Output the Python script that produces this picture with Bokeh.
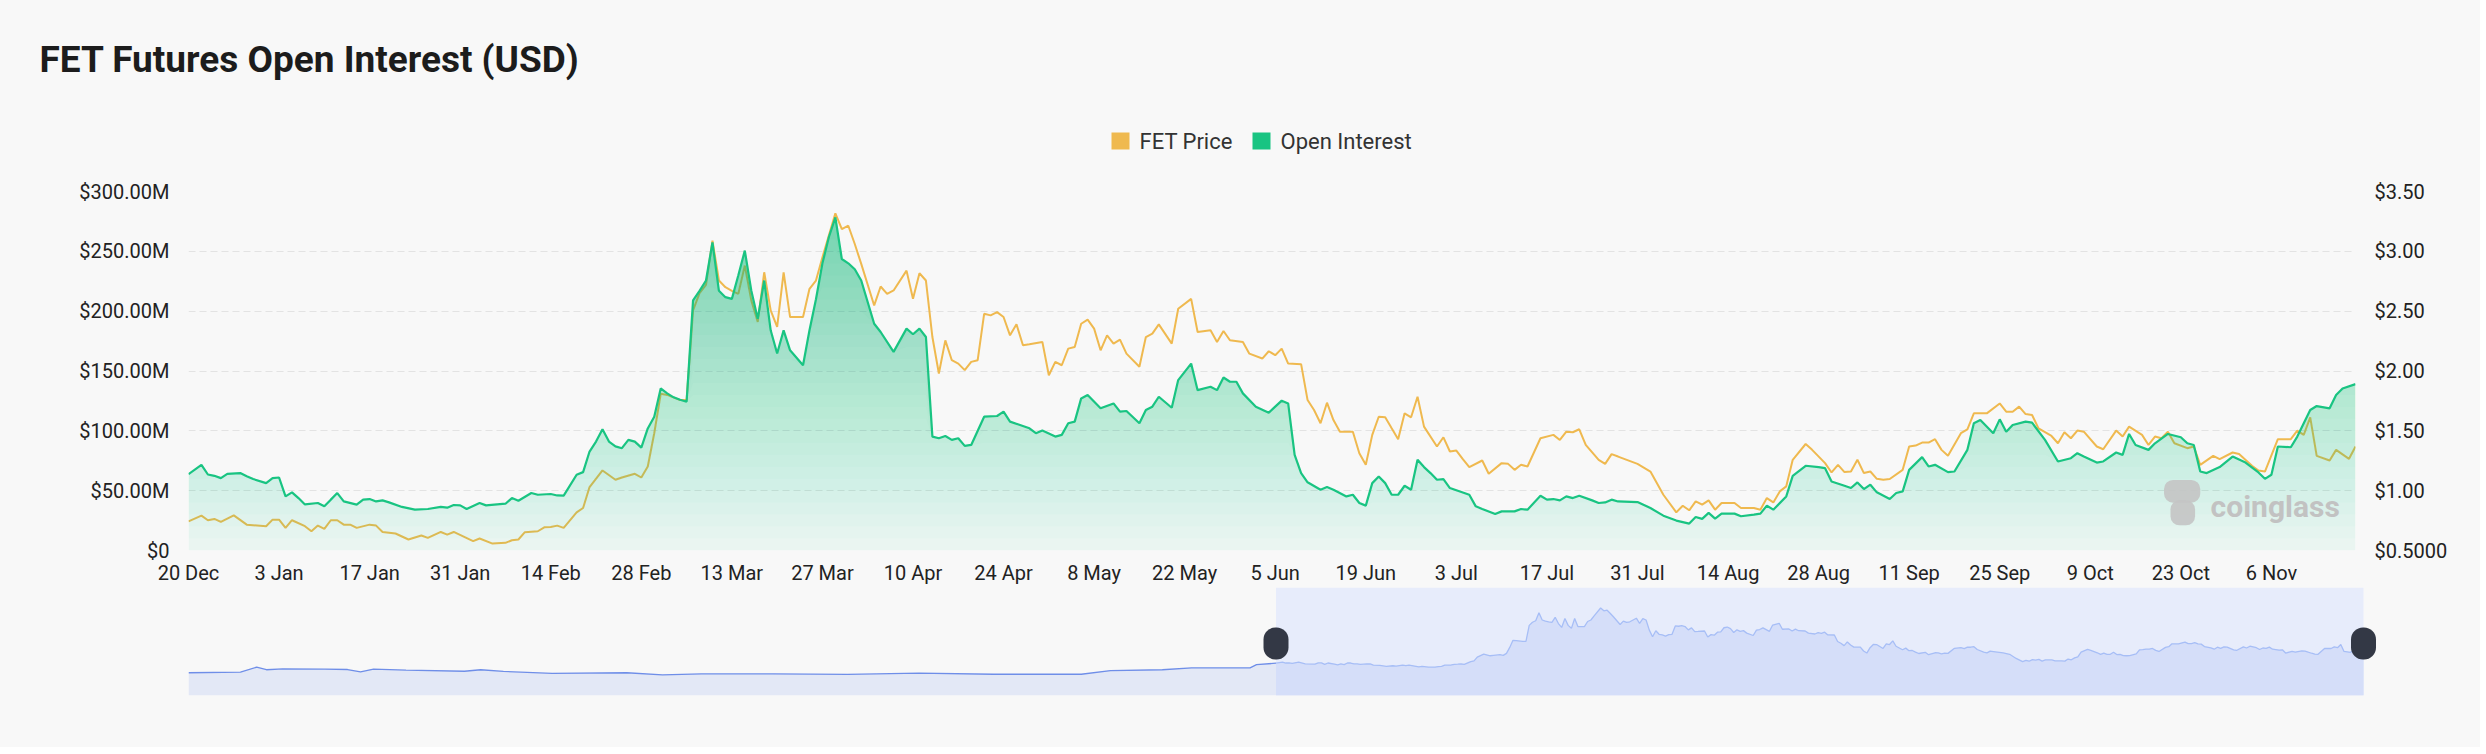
import numpy as np
from bokeh.plotting import figure
from bokeh.models import Range1d, LinearAxis, FixedTicker, Label, BoxAnnotation
from bokeh.layouts import column
from bokeh.embed import file_html
from bokeh.resources import INLINE
from bokeh.core.properties import value

# ---------------- data ----------------
title_text = "FET Futures Open Interest (USD)"
series_names = ["FET Price", "Open Interest"]
watermark_text = "coinglass"

# days counted from 20 Dec 2023
oi_day = [0, 2, 3, 4, 5, 6, 8, 9, 10, 12, 13, 14, 15, 16, 17, 18, 20, 21, 22, 23, 24, 26, 27, 28, 29, 30, 31, 33, 35, 37,
          39, 40, 41, 42, 43, 45, 46, 49, 50, 51, 53, 54, 56, 57, 58, 60, 61, 62, 63, 64, 65, 66, 67, 68, 69, 70, 71, 72,
          73, 74, 75, 76, 77, 78, 79, 80, 81, 82, 83, 84, 85, 86, 87, 88, 89, 90, 91, 92, 93, 95, 96, 97, 98, 99, 100,
          101, 102, 103, 104, 106, 107, 109, 111, 112, 113, 114, 115, 116, 117, 118, 119, 120, 121, 123, 125, 126, 127,
          130, 131, 132, 134, 135, 136, 137, 138, 139, 141, 143, 144, 145, 147, 148, 149, 150, 152, 153, 155, 156, 158,
          159, 160, 161, 162, 163, 165, 167, 168, 169, 170, 171, 172, 173, 175, 176, 177, 179, 180, 181, 182, 183, 184,
          185, 186, 187, 188, 189, 190, 191, 192, 193, 194, 195, 197, 198, 199, 200, 202, 203, 205, 206, 207, 209, 210,
          211, 212, 213, 214, 215, 217, 218, 219, 220, 221, 224, 226, 228, 230, 232, 233, 234, 235, 236, 237, 239, 240,
          242, 243, 244, 245, 247, 248, 250, 252, 253, 254, 256, 257, 258, 259, 260, 261, 263, 264, 265, 266, 268, 269,
          270, 272, 273, 275, 276, 277, 279, 280, 281, 282, 284, 285, 287, 289, 291, 292, 293, 295, 296, 298, 299, 300,
          301, 303, 304, 306, 308, 309, 310, 311, 312, 314, 316, 318, 320, 321, 322, 323, 325, 326, 328, 329, 331, 332,
          333, 335]
oi_musd = [63.8, 71.6, 63.5, 62.4, 60.5, 64.0, 64.7, 62.0, 59.7, 56.3, 60.5, 61.0, 45.2, 48.6, 43.8, 38.5, 39.7, 36.9,
           42.5, 48.0, 41.0, 38.3, 42.5, 43.0, 41.0, 41.9, 40.2, 36.4, 34.1, 34.7, 36.4, 35.8, 38.0, 37.7, 34.7, 39.7,
           37.7, 39.1, 43.8, 41.6, 48.0, 46.6, 47.2, 46.0, 45.8, 63.3, 65.5, 82.7, 91.0, 101.3, 91.0, 87.0, 85.5, 92.4,
           91.0, 86.0, 102.0, 111.8, 135.4, 131.3, 128.0, 126.0, 124.3, 209.0, 217.0, 225.6, 257.5, 217.0, 211.7, 210.3,
           230.0, 250.6, 217.3, 193.7, 225.6, 184.0, 164.6, 184.0, 167.3, 154.8, 184.0, 210.0, 240.0, 262.0, 278.3,
           243.6, 240.0, 235.0, 225.6, 189.5, 182.6, 166.0, 185.4, 180.7, 185.4, 178.4, 95.2, 93.8, 95.7, 92.4, 93.8,
           87.4, 88.2, 111.8, 112.4, 116.0, 107.7, 102.1, 98.0, 100.2, 95.2, 96.6, 106.3, 107.7, 127.1, 129.9, 118.8,
           122.9, 116.0, 116.6, 106.3, 117.4, 120.2, 128.5, 119.3, 142.4, 156.2, 134.0, 136.8, 134.0, 144.6, 141.0,
           141.0, 131.3, 120.2, 115.2, 120.2, 125.2, 122.9, 79.9, 64.7, 57.0, 50.8, 53.0, 50.8, 45.2, 46.6, 39.7, 37.5,
           56.3, 61.9, 56.3, 46.6, 46.6, 54.1, 50.8, 75.8, 69.7, 64.7, 59.1, 59.7, 52.2, 48.5, 46.6, 36.9, 34.7, 30.5,
           32.7, 32.7, 34.7, 34.1, 45.8, 42.5, 43.0, 41.9, 45.2, 43.8, 45.8, 41.9, 39.7, 40.2, 42.5, 41.0, 40.5, 35.5,
           29.1, 25.0, 22.5, 28.0, 26.4, 31.4, 26.6, 30.8, 30.8, 28.6, 30.0, 30.8, 37.5, 34.1, 45.2, 62.4, 70.8, 69.7,
           68.8, 57.7, 54.1, 52.2, 56.9, 51.3, 55.0, 48.6, 43.0, 48.0, 49.4, 67.4, 78.0, 70.2, 71.6, 65.5, 66.0, 84.1,
           106.3, 109.1, 98.0, 109.6, 99.3, 104.9, 107.7, 106.8, 92.4, 74.4, 77.1, 81.3, 78.5, 73.5, 74.4, 81.9, 79.9,
           97.4, 88.2, 84.1, 89.6, 97.4, 94.6, 89.6, 88.2, 66.0, 64.7, 69.7, 78.5, 73.5, 65.2, 59.9, 63.3, 86.9, 86.3,
           95.2, 117.4, 120.7, 118.8, 129.9, 135.4, 139.0]

price_day = [0, 2, 3, 4, 5, 7, 9, 12, 13, 14, 15, 16, 18, 19, 20, 21, 22, 23, 24, 25, 26, 28, 29, 30, 32, 34, 36, 37, 39,
             40, 41, 44, 45, 47, 49, 50, 51, 52, 54, 55, 56, 57, 58, 60, 61, 62, 64, 66, 67, 69, 70, 71, 72, 73, 74, 76,
             77, 78, 79, 80, 81, 82, 83, 84, 85, 86, 87, 88, 89, 90, 91, 92, 93, 95, 96, 97, 98, 100, 101, 102, 103, 104,
             106, 107, 108, 109, 111, 112, 113, 114, 115, 116, 117, 118, 119, 120, 121, 122, 123, 124, 125, 126, 127,
             128, 129, 130, 132, 133, 134, 135, 136, 137, 138, 139, 140, 141, 142, 143, 144, 145, 147, 148, 149, 150,
             152, 153, 155, 156, 158, 159, 160, 161, 163, 164, 166, 167, 168, 169, 170, 172, 173, 174, 175, 176, 177,
             178, 180, 181, 182, 183, 184, 185, 186, 187, 188, 189, 190, 191, 193, 194, 195, 196, 197, 198, 200, 201,
             203, 204, 205, 206, 207, 209, 211, 212, 213, 214, 215, 216, 218, 219, 220, 221, 224, 226, 228, 230, 231,
             232, 233, 234, 235, 236, 237, 239, 240, 242, 243, 244, 245, 246, 247, 248, 250, 251, 253, 254, 255, 256,
             257, 258, 259, 260, 261, 262, 263, 265, 266, 267, 268, 269, 270, 271, 272, 274, 275, 276, 278, 280, 281,
             282, 283, 284, 285, 286, 288, 289, 290, 291, 292, 293, 295, 296, 298, 299, 300, 302, 303, 304, 305, 306,
             307, 309, 310, 311, 313, 314, 316, 317, 319, 320, 321, 323, 325, 326, 327, 328, 329, 331, 332, 334, 335]
price_usd = [0.744, 0.791, 0.753, 0.764, 0.739, 0.794, 0.716, 0.703, 0.758, 0.758, 0.689, 0.753, 0.703, 0.661, 0.708,
             0.680, 0.753, 0.753, 0.716, 0.716, 0.689, 0.716, 0.708, 0.655, 0.642, 0.592, 0.625, 0.605, 0.655, 0.633,
             0.655, 0.578, 0.600, 0.558, 0.564, 0.586, 0.592, 0.653, 0.661, 0.694, 0.697, 0.708, 0.689, 0.819, 0.855,
             1.030, 1.169, 1.091, 1.110, 1.141, 1.110, 1.202, 1.480, 1.810, 1.800, 1.757, 1.757, 2.506, 2.650, 2.720,
             3.090, 2.756, 2.700, 2.670, 2.645, 2.881, 2.590, 2.410, 2.825, 2.506, 2.368, 2.825, 2.451, 2.451, 2.687,
             2.756, 2.950, 3.317, 3.186, 3.214, 3.061, 2.895, 2.548, 2.706, 2.645, 2.673, 2.839, 2.603, 2.817, 2.756,
             2.284, 1.979, 2.256, 2.090, 2.062, 2.007, 2.076, 2.090, 2.478, 2.465, 2.492, 2.451, 2.298, 2.390, 2.215,
             2.223, 2.243, 1.965, 2.076, 2.048, 2.187, 2.201, 2.395, 2.429, 2.354, 2.173, 2.298, 2.229, 2.262, 2.145,
             2.035, 2.284, 2.312, 2.390, 2.229, 2.520, 2.603, 2.326, 2.340, 2.243, 2.334, 2.257, 2.243, 2.145, 2.104,
             2.165, 2.132, 2.187, 2.062, 2.057, 1.757, 1.674, 1.563, 1.735, 1.590, 1.493, 1.493, 1.313, 1.216, 1.466,
             1.618, 1.613, 1.521, 1.430, 1.646, 1.613, 1.785, 1.535, 1.369, 1.446, 1.327, 1.335, 1.263, 1.196, 1.252,
             1.141, 1.230, 1.224, 1.174, 1.216, 1.202, 1.438, 1.466, 1.424, 1.493, 1.488, 1.513, 1.382, 1.258, 1.224,
             1.305, 1.285, 1.224, 1.160, 0.966, 0.819, 0.874, 0.836, 0.911, 0.883, 0.919, 0.841, 0.897, 0.897, 0.855,
             0.855, 0.841, 0.938, 0.902, 0.994, 1.036, 1.258, 1.390, 1.341, 1.230, 1.152, 1.216, 1.155, 1.160, 1.258,
             1.147, 1.160, 1.099, 1.091, 1.097, 1.174, 1.369, 1.377, 1.402, 1.402, 1.430, 1.341, 1.291, 1.480, 1.513,
             1.646, 1.646, 1.729, 1.660, 1.660, 1.702, 1.640, 1.632, 1.521, 1.457, 1.396, 1.488, 1.438, 1.502, 1.493,
             1.369, 1.346, 1.502, 1.452, 1.535, 1.466, 1.382, 1.452, 1.438, 1.493, 1.396, 1.355, 1.369, 1.216, 1.291,
             1.263, 1.319, 1.307, 1.208, 1.169, 1.160, 1.430, 1.430, 1.502, 1.466, 1.613, 1.291, 1.252, 1.341, 1.266,
             1.369]

# earlier price history shown only in the range navigator (days before 20 Dec 2023)
nav_day = [-335, -319, -314, -311, -306, -293, -286, -282, -278, -268, -250, -245, -238, -223, -200, -189, -177, -155,
           -132, -110, -87, -60, -51, -35, -26, -8, -6]
nav_price = [0.30, 0.33, 0.56, 0.44, 0.48, 0.47, 0.45, 0.34, 0.47, 0.42, 0.37, 0.44, 0.36, 0.27, 0.30, 0.20, 0.25, 0.25,
             0.22, 0.28, 0.23, 0.23, 0.40, 0.44, 0.53, 0.53, 0.68]

x_tick_day = [0, 14, 28, 42, 56, 70, 84, 98, 112, 126, 140, 154, 168, 182, 196, 210, 224, 238, 252, 266, 280, 294, 308, 322]
x_tick_labels = ["20 Dec", "3 Jan", "17 Jan", "31 Jan", "14 Feb", "28 Feb", "13 Mar", "27 Mar", "10 Apr", "24 Apr",
                 "8 May", "22 May", "5 Jun", "19 Jun", "3 Jul", "17 Jul", "31 Jul", "14 Aug", "28 Aug", "11 Sep",
                 "25 Sep", "9 Oct", "23 Oct", "6 Nov"]
oi_ticks = [0, 50, 100, 150, 200, 250, 300]
oi_tick_labels = ["$0", "$50.00M", "$100.00M", "$150.00M", "$200.00M", "$250.00M", "$300.00M"]
price_ticks = [0.5, 1.0, 1.5, 2.0, 2.5, 3.0, 3.5]
price_tick_labels = ["$0.5000", "$1.00", "$1.50", "$2.00", "$2.50", "$3.00", "$3.50"]

# ---------------- style / layout (page pixels) ----------------
BG = "#f8f8f8"
GREEN = "#19c482"
GOLD = "#efb94f"
FONT = "Roboto"
W = 2480
H0 = 165            # header (title + legend)
FRAME_L, FRAME_R = 188, 2355
FRAME_T, FRAME_B = 191, 551
NAV_T, NAV_B = 587, 695
NAV_L, NAV_R = 188, 2363
H1 = NAV_T - H0
H2 = 160

# ---------------- header ----------------
h = figure(width=W, height=H0, x_range=Range1d(0, W), y_range=Range1d(H0, 0), output_backend="svg",
           toolbar_location=None, min_border=0, background_fill_color=BG, border_fill_color=BG,
           outline_line_color=None)
h.frame_align = False
h.axis.visible = False
h.grid.visible = False
h.text(x=[39], y=[59], text=[title_text], text_font=value(FONT), text_font_style="bold",
       text_font_size="37px", text_color="#1c1c1c", text_baseline="middle", text_align="left")
h.rect(x=[1120, 1261], y=[140.5, 140.5], width=18, height=17, fill_color=[GOLD, GREEN], line_color=None)
h.text(x=[1139, 1280], y=[141, 141], text=series_names, text_font=value(FONT), text_font_size="22px",
       text_color="#333333", text_baseline="middle", text_align="left")

# ---------------- main chart ----------------
oi_x = np.array(oi_day, dtype=float)
oi_y = np.array(oi_musd, dtype=float)

p = figure(width=W, height=H1, x_range=Range1d(oi_day[0], oi_day[-1]), y_range=Range1d(oi_ticks[0], oi_ticks[-1]),
           output_backend="svg", toolbar_location=None, min_border_left=FRAME_L, min_border_right=W - FRAME_R,
           min_border_top=FRAME_T - H0, min_border_bottom=NAV_T - FRAME_B, background_fill_color=BG,
           border_fill_color=BG, outline_line_color=None)
p.frame_align = False
p.extra_y_ranges = {"price": Range1d(price_ticks[0], price_ticks[-1])}

p.xaxis.ticker = FixedTicker(ticks=x_tick_day)
p.xaxis.major_label_overrides = {int(d): t for d, t in zip(x_tick_day, x_tick_labels)}
p.yaxis.ticker = FixedTicker(ticks=oi_ticks)
p.yaxis.major_label_overrides = {int(v): t for v, t in zip(oi_ticks, oi_tick_labels)}
ax_r = LinearAxis(y_range_name="price", ticker=FixedTicker(ticks=price_ticks))
ax_r.major_label_overrides = {float(v): t for v, t in zip(price_ticks, price_tick_labels)}
p.add_layout(ax_r, "right")
for ax in [p.xaxis[0], p.yaxis[0], ax_r]:
    ax.axis_line_color = None
    ax.major_tick_line_color = None
    ax.minor_tick_line_color = None
    ax.major_tick_out = 0
    ax.major_tick_in = 0
    ax.minor_tick_out = 0
    ax.minor_tick_in = 0
    ax.major_label_text_font = FONT
    ax.major_label_text_font_size = "20px"
    ax.major_label_text_color = "#222222"
p.xaxis.major_label_standoff = 10
p.yaxis[0].major_label_standoff = 19
ax_r.major_label_standoff = 19

p.xgrid.visible = False
p.ygrid.grid_line_color = "#e3e3e3"
p.ygrid.grid_line_dash = "7 4"
p.ygrid.grid_line_width = 1

# price line (drawn first, below open interest)
p.line(price_day, price_usd, y_range_name="price", line_color=GOLD, line_width=2)

# gradient area under open interest: stacked translucent layers
step = 10.0
top_ref = 270.0
levels = np.arange(0, 280, step)
prev = 0.0
for lo in levels:
    target = 0.04 + 0.5 * min(lo + step, top_ref) / top_ref
    a = 1 - (1 - target) / (1 - prev)
    prev = target
    p.varea(x=oi_x, y1=np.minimum(oi_y, lo), y2=oi_y, fill_color=GREEN, fill_alpha=a)

p.line(oi_day, oi_musd, line_color=GREEN, line_width=2.2)

# watermark
for l, r, t, b in [(305.4, 311.0, 59.0, 40.0), (306.4, 310.2, 42.0, 21.0)]:
    p.add_layout(BoxAnnotation(left=l, right=r, top=t, bottom=b, fill_color="#c4c4c4", fill_alpha=0.9,
                               line_color=None, border_radius=9))
p.add_layout(Label(x=312.6, y=37, text=watermark_text, text_font=FONT, text_font_style="bold",
                   text_font_size="30px", text_color="#c2c2c2", text_baseline="middle", text_align="left"))

# ---------------- range navigator ----------------
extra_px = 17
span_days = price_day[-1] - nav_day[0]
px_per_day = (NAV_R - NAV_L) / span_days
x_end = price_day[-1] + extra_px / px_per_day
ny0, ny1 = -0.76, 4.27
n = figure(width=W, height=H2, x_range=Range1d(nav_day[0], x_end), y_range=Range1d(ny0, ny1),
           output_backend="svg", toolbar_location=None, min_border_left=NAV_L,
           min_border_right=W - NAV_R - extra_px, min_border_top=0, min_border_bottom=H2 - (NAV_B - NAV_T),
           background_fill_color=BG, border_fill_color=BG, outline_line_color=None)
n.frame_align = False
n.axis.visible = False
n.grid.visible = False

all_x = nav_day + price_day
all_y = nav_price + price_usd
n.varea(x=all_x, y1=ny0, y2=all_y, fill_color="#e3e8f6")
n.quad(left=[price_day[0]], right=[price_day[-1]], bottom=[ny0], top=[ny1], fill_color="#e7ecfb", line_color=None)
n.varea(x=price_day, y1=ny0, y2=price_usd, fill_color="#d5def9")
n.line(nav_day + [price_day[0]], nav_price + [price_usd[0]], line_color="#6f8ee8", line_width=1.3)
n.line(price_day, price_usd, line_color="#a7bef6", line_width=1.3)

hw = 12.5 / px_per_day
units_per_px = (ny1 - ny0) / (NAV_B - NAV_T)
hc = ny1 - 56 * units_per_px
hh = 16 * units_per_px
for xc in [price_day[0], price_day[-1]]:
    n.add_layout(BoxAnnotation(left=xc - hw, right=xc + hw, top=hc + hh, bottom=hc - hh, fill_color="#333845",
                               fill_alpha=1.0, line_color=None, border_radius=12))
n.text(x=[price_day[0], price_day[-1]], y=[hc, hc], text=["II", "II"], text_font=value(FONT),
       text_font_size="12px", text_color="#c9ccd4", text_align="center", text_baseline="middle")

layout = column(h, p, n, spacing=0, styles={"background-color": BG})
html = file_html(layout, INLINE, title="FET Futures Open Interest (USD)")
html = html.replace("<body>", '<body style="background:%s;">' % BG, 1)
open("out.html", "w").write(html)
